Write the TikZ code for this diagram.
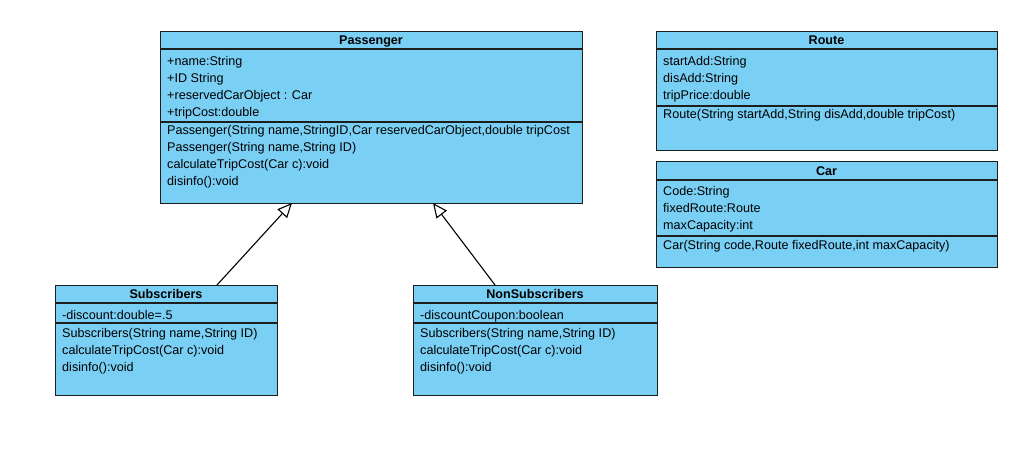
\documentclass[tikz,border=0pt]{standalone}
\usepackage{fontspec}
\setmainfont{Liberation Sans}
\usetikzlibrary{arrows.meta}
\definecolor{umlfill}{RGB}{122,207,244}
\definecolor{umlline}{RGB}{30,30,30}
\begin{document}
\begin{tikzpicture}[x=1pt,y=-1pt,
  box/.style={draw=umlline, fill=umlfill, line width=1.4pt, inner sep=0pt, anchor=north west},
  sep/.style={draw=umlline, line width=1.4pt},
  title/.style={font=\fontsize{12.6}{14}\selectfont\bfseries, inner sep=0pt, anchor=base},
  member/.style={font=\fontsize{12.6}{14}\selectfont, inner sep=0pt, anchor=base west},
  inherit/.style={draw=black, line width=1.1pt, -{Triangle[open,length=14.5pt,width=13pt,fill=white]}}]
\useasboundingbox (0,0) rectangle (1027,458);

% ---------- Passenger ----------
\node[box, minimum width=422pt, minimum height=172pt] (passenger) at (160,31) {};
\draw[sep] (160,49) -- (582,49);
\draw[sep] (160,122) -- (582,122);
\node[title] (pT) at (371,44) {Passenger};
\node[member] (pA1) at (167,65) {+name:String};
\node[member] (pA2) at (167,82) {+ID String};
\node[member] (pA3) at (167,99) {+reservedCarObject : Car};
\node[member] (pA4) at (167,116) {+tripCost:double};
\node[member] (pM1) at (167,134) {Passenger(String name,StringID,Car reservedCarObject,double tripCost};
\node[member] (pM2) at (167,151) {Passenger(String name,String ID)};
\node[member] (pM3) at (167,168) {calculateTripCost(Car c):void};
\node[member] (pM4) at (167,185) {disinfo():void};

% ---------- Route ----------
\node[box, minimum width=341pt, minimum height=119pt] (route) at (656,31) {};
\draw[sep] (656,49) -- (997,49);
\draw[sep] (656,106) -- (997,106);
\node[title] (rT) at (826.5,44) {Route};
\node[member] (rA1) at (663,65) {startAdd:String};
\node[member] (rA2) at (663,82) {disAdd:String};
\node[member] (rA3) at (663,99) {tripPrice:double};
\node[member] (rM1) at (663,118) {Route(String startAdd,String disAdd,double tripCost)};

% ---------- Car ----------
\node[box, minimum width=341pt, minimum height=106pt] (car) at (656,161) {};
\draw[sep] (656,180) -- (997,180);
\draw[sep] (656,236) -- (997,236);
\node[title] (cT) at (826.5,175) {Car};
\node[member] (cA1) at (663,195) {Code:String};
\node[member] (cA2) at (663,212) {fixedRoute:Route};
\node[member] (cA3) at (663,229) {maxCapacity:int};
\node[member] (cM1) at (663,249) {Car(String code,Route fixedRoute,int maxCapacity)};

% ---------- Subscribers ----------
\node[box, minimum width=222pt, minimum height=110pt] (subs) at (55,285) {};
\draw[sep] (55,303) -- (277,303);
\draw[sep] (55,323) -- (277,323);
\node[title] (sT) at (166,298) {Subscribers};
\node[member] (sA1) at (62,319) {-discount:double=.5};
\node[member] (sM1) at (62,337) {Subscribers(String name,String ID)};
\node[member] (sM2) at (62,354) {calculateTripCost(Car c):void};
\node[member] (sM3) at (62,371) {disinfo():void};

% ---------- NonSubscribers ----------
\node[box, minimum width=244pt, minimum height=110pt] (nonsubs) at (413,285) {};
\draw[sep] (413,303) -- (657,303);
\draw[sep] (413,323) -- (657,323);
\node[title] (nT) at (535,298) {NonSubscribers};
\node[member] (nA1) at (420,319) {-discountCoupon:boolean};
\node[member] (nM1) at (420,337) {Subscribers(String name,String ID)};
\node[member] (nM2) at (420,354) {calculateTripCost(Car c):void};
\node[member] (nM3) at (420,371) {disinfo():void};

% ---------- generalisation ----------
\coordinate (subsTop) at (217,285);
\coordinate (nonsubsTop) at (495,285);
\coordinate (passL) at (292,203);
\coordinate (passR) at (433,203);
\draw[inherit] (subsTop) -- (passL);
\draw[inherit] (nonsubsTop) -- (passR);
\end{tikzpicture}
\end{document}
